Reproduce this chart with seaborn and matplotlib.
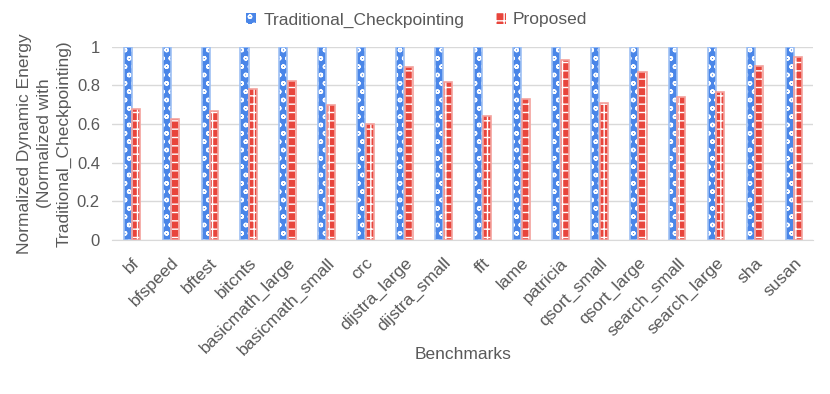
import pandas as pd
import matplotlib
matplotlib.use('Agg')
import matplotlib.pyplot as plt
import seaborn as sns
from matplotlib.ticker import FuncFormatter

# Chart data
benchmarks = ['bf', 'bfspeed', 'bftest', 'bitcnts', 'basicmath_large', 'basicmath_small',
              'crc', 'dijstra_large', 'dijstra_small', 'fft', 'lame', 'patricia',
              'qsort_small', 'qsort_large', 'search_small', 'search_large', 'sha', 'susan']
traditional = [1.0] * 18
proposed = [0.68, 0.625, 0.67, 0.78, 0.822, 0.698, 0.60, 0.895, 0.817,
            0.641, 0.732, 0.931, 0.71, 0.869, 0.739, 0.767, 0.902, 0.948]
series = ['Traditional_Checkpointing', 'Proposed']

df = pd.DataFrame({'Benchmark': benchmarks * 2,
                   'Series': [series[0]] * 18 + [series[1]] * 18,
                   'Value': traditional + proposed})

sns.set_style('white')
plt.rcParams['font.family'] = ['Liberation Sans', 'DejaVu Sans']
plt.rcParams['hatch.linewidth'] = 1.0
text_color = '#595959'
blue = '#4A86E8'
red = '#E8453C'
light_blue = '#9EC0F4'
light_red = '#F4A29D'

fig = plt.figure(figsize=(8.3, 3.94), dpi=100)
ax = fig.add_axes([0.1355, 0.391, 0.8446, 0.49])

# patterned bars
sns.barplot(data=df, x='Benchmark', y='Value', hue='Series', palette=[blue, red],
            width=0.44, gap=0.06, ax=ax, legend=False, saturation=1)
hatches = ['oo', '++']
for i, cont in enumerate(ax.containers):
    for bar in cont:
        bar.set_hatch(hatches[i])
        bar.set_edgecolor('white')
        bar.set_linewidth(0)

# lighter outlines on top
sns.barplot(data=df, x='Benchmark', y='Value', hue='Series', palette=[light_blue, light_red],
            width=0.44, gap=0.06, ax=ax, legend=False, saturation=1, fill=False,
            linewidth=1.2)

ax.set_ylim(0, 1)
ax.set_xlim(-0.5, len(benchmarks) - 0.5)
ax.set_yticks([0, 0.2, 0.4, 0.6, 0.8, 1.0])
ax.yaxis.set_major_formatter(FuncFormatter(lambda v, p: f'{v:g}'))
ax.grid(axis='y', color='#d9d9d9', linewidth=1)
ax.set_axisbelow(True)
for s in ['top', 'right', 'left']:
    ax.spines[s].set_visible(False)
ax.spines['bottom'].set_color('#d9d9d9')

ax.tick_params(axis='y', length=0, labelsize=12, colors=text_color, pad=9)
ax.tick_params(axis='x', length=0, labelsize=12.5, colors=text_color, pad=11)
plt.setp(ax.get_xticklabels(), rotation=45, ha='right', rotation_mode='anchor')

ax.set_xlabel('Benchmarks', fontsize=12.5, color=text_color)
ax.xaxis.set_label_coords(0.5, -0.555)
ax.set_ylabel('Normalized Dynamic Energy\n(Normalized with\nTraditional_Checkpointing)',
              fontsize=12.5, color=text_color, labelpad=3.5, linespacing=1.4)

handles = [plt.Rectangle((0, 0), 1, 1, facecolor=blue, hatch='oo', edgecolor='white', linewidth=0),
           plt.Rectangle((0, 0), 1, 1, facecolor=red, hatch='++', edgecolor='white', linewidth=0)]
fig.legend(handles, series, loc='upper center', bbox_to_anchor=(0.502, 1.008), ncol=2,
           frameon=False, fontsize=12.5, labelcolor=text_color, handlelength=0.6,
           handleheight=0.6, handletextpad=0.4, columnspacing=1.8)

fig.savefig('out.png', dpi=100)
